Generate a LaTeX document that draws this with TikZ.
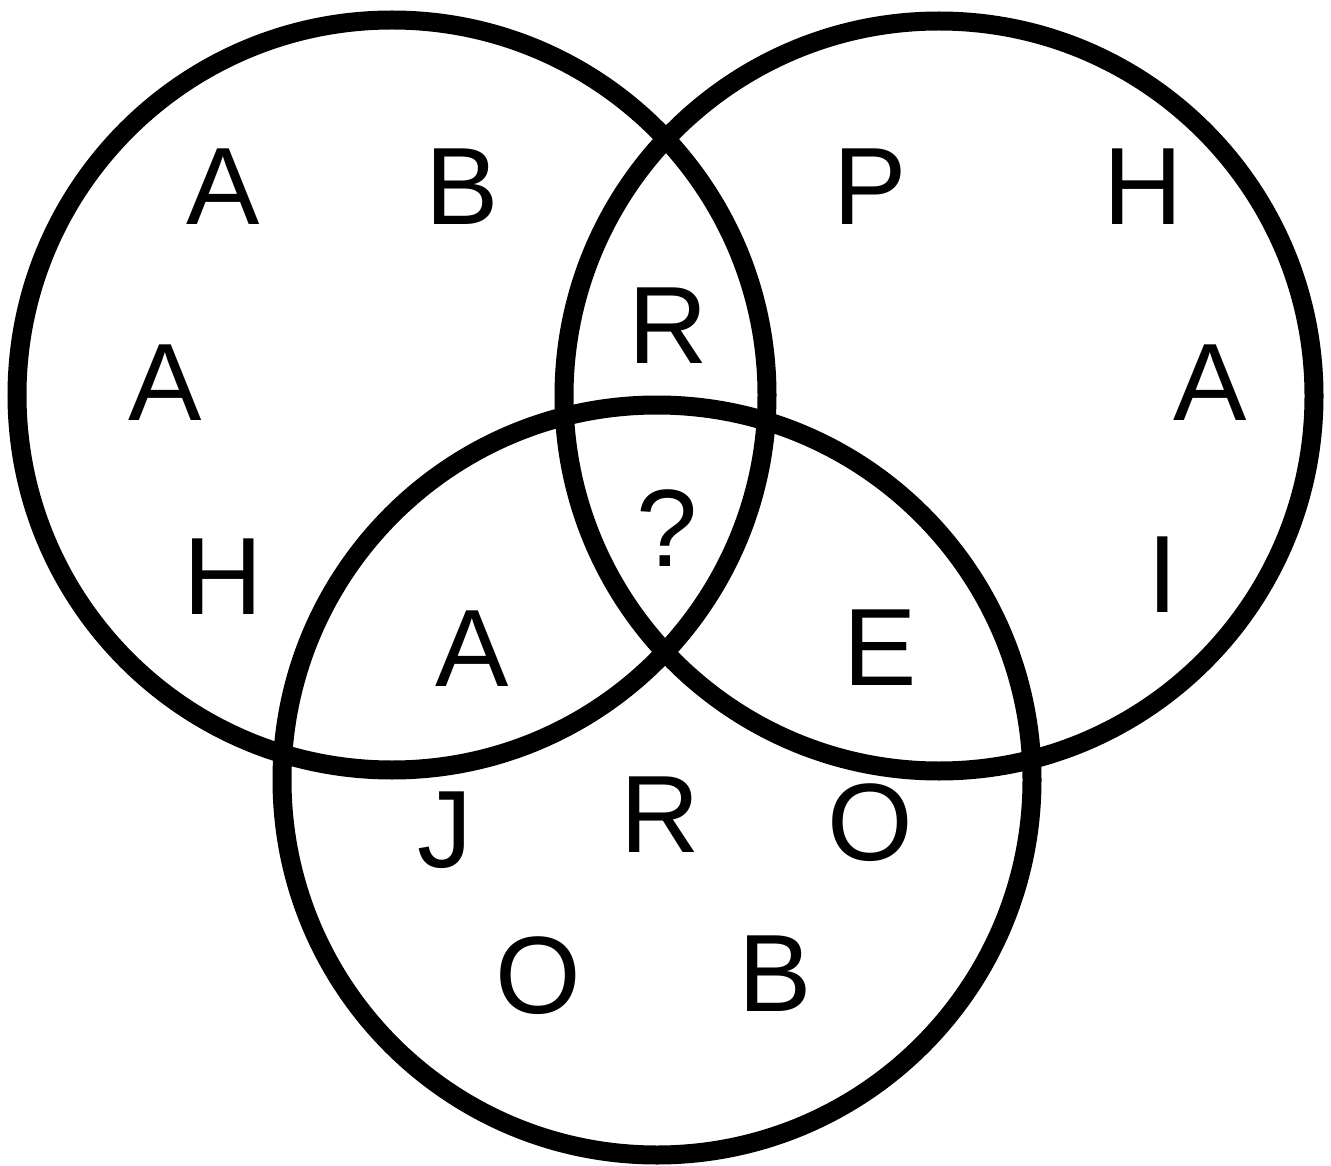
\documentclass[tikz,border=0pt]{standalone}
\usepackage{fontspec}
\setmainfont{Liberation Sans}
\begin{document}
\begin{tikzpicture}[x=1pt,y=-1pt,
  ring/.style={draw=black,line width=19pt},
  lab/.style={anchor=base,inner sep=0pt,font=\fontsize{110}{110}\selectfont}]
\useasboundingbox (0,0) rectangle (1331,1166);
\fill[white] (0,0) rectangle (1331,1166);
\draw[ring] (392,395) circle (375);
\draw[ring] (939,396) circle (375);
\draw[ring] (657,780) circle (375);
\node[lab] (a1) at (223,225) {A};
\node[lab] (b1) at (462,225) {B};
\node[lab] (p1) at (870,225) {P};
\node[lab] (h1) at (1143,225) {H};
\node[lab] (r1) at (668,363) {R};
\node[lab] (a2) at (165,420) {A};
\node[lab] (a3) at (1210,420) {A};
\node[lab] (q) at (667,566) {?};
\node[lab] (h2) at (223,614) {H};
\node[lab] (i1) at (1163,612) {I};
\node[lab] (a4) at (472,686) {A};
\node[lab] (e1) at (880,685) {E};
\node[lab] (j1) at (445,867) {J};
\node[lab] (r2) at (660,852) {R};
\node[lab] (o1) at (870,860) {O};
\node[lab] (o2) at (538,1013) {O};
\node[lab] (b2) at (775,1011) {B};
\end{tikzpicture}
\end{document}
